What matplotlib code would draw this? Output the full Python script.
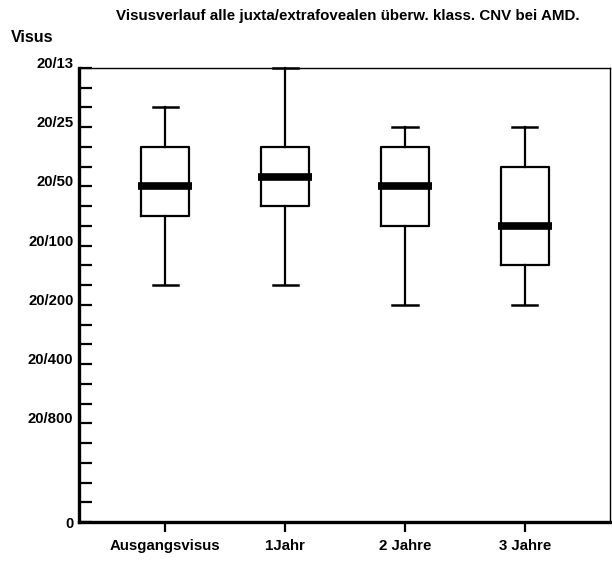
import matplotlib
matplotlib.use('Agg')
import matplotlib.pyplot as plt
import matplotlib.transforms as mtransforms

plt.rcParams['font.family'] = ['Liberation Sans', 'DejaVu Sans']
plt.rcParams['font.weight'] = 'bold'

# groups on the x axis
groups = ['Ausgangsvisus', '1Jahr', '2 Jahre', '3 Jahre']

# box statistics in visus steps (0 = bottom, 23 = 20/13)
whisk_lo = [12, 12, 11, 11]
q1 = [15.5, 16, 15, 13]
medians = [17, 17.5, 17, 15]
q3 = [19, 19, 19, 18]
whisk_hi = [21, 23, 20, 20]

# y axis labels
ytick_pos = [23, 20, 17, 14, 11, 8, 5, 0]
ytick_labels = ['20/13', '20/25', '20/50', '20/100', '20/200', '20/400', '20/800', '0']

fig = plt.figure(figsize=(6.12, 5.61), dpi=100)
ax = fig.add_axes([0.129, 0.0695, 0.8677, 0.8093])

stats = []
for i, name in enumerate(groups):
    stats.append({'label': name, 'whislo': whisk_lo[i], 'q1': q1[i], 'med': medians[i],
                  'q3': q3[i], 'whishi': whisk_hi[i], 'fliers': []})

positions = list(range(1, len(groups) + 1))
bp = ax.bxp(stats, positions=positions, widths=0.4, capwidths=0.21, showfliers=False,
            boxprops=dict(color='black', linewidth=1.6),
            whiskerprops=dict(color='black', linewidth=1.6),
            capprops=dict(color='black', linewidth=1.8),
            medianprops=dict(color='black', linewidth=5.5, solid_capstyle='butt'))

# median bars stick out a bit past the box
for line in bp['medians']:
    x = line.get_xdata()
    mid = (x[0] + x[-1]) / 2
    line.set_xdata([mid - 0.225, mid + 0.225])
for art in bp['caps'] + bp['whiskers']:
    art.set_clip_on(False)

ax.set_xlim(0.28, 4.71)
ax.set_ylim(0, 23)

ax.set_yticks(ytick_pos)
ax.set_yticklabels(ytick_labels, fontsize=10.7, fontweight='bold')
ax.set_yticks(range(0, 24), minor=True)
ax.tick_params(axis='y', which='both', direction='in', length=9, width=1.6, pad=4)
ax.tick_params(axis='x', direction='out', length=7.5, width=1.6, labelsize=10.8, pad=5)
for lab in ax.get_xticklabels():
    lab.set_fontweight('bold')

# labels sit slightly above their ticks
offset = mtransforms.ScaledTranslation(0, 4 / 72, fig.dpi_scale_trans)
for lab in ax.get_yticklabels()[:-1]:
    lab.set_transform(lab.get_transform() + offset)

ax.spines['left'].set_linewidth(2.4)
ax.spines['bottom'].set_linewidth(2.4)
ax.spines['top'].set_linewidth(1.0)
ax.spines['right'].set_linewidth(1.0)

fig.text(0.569, 0.972, 'Visusverlauf alle juxta/extrafovealen überw. klass. CNV bei AMD.',
         ha='center', va='center', fontsize=10.9, fontweight='bold')
fig.text(0.018, 0.933, 'Visus', ha='left', va='center', fontsize=11.5, fontweight='bold')

fig.savefig('out.png', dpi=100)
